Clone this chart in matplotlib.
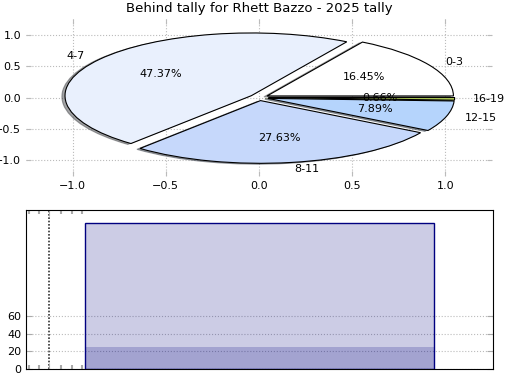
import matplotlib
matplotlib.use('Agg')
import matplotlib.pyplot as plt

# pie data
labels = ['0-3', '4-7', '8-11', '12-15', '16-19']
counts = [25, 72, 42, 12, 1]
colors = ['#ffffff', '#e9f0fd', '#c6d8fb', '#b5d4fc', '#c2e060']

# bar data
bar_total = [167]
bar_first = [25]

plt.rcParams['font.family'] = 'DejaVu Sans'

fig = plt.figure(figsize=(5.2, 3.9), dpi=100)

ax1 = fig.add_axes([0.05, 0.549, 0.896, 0.402])
ax1.pie(counts, labels=labels, colors=colors, autopct='%.2f%%',
        explode=[0.05] * len(counts),
        shadow={'ox': -0.012, 'oy': -0.01, 'shade': 0.7}, frame=True,
        wedgeprops={'edgecolor': 'black', 'linewidth': 0.8},
        textprops={'fontsize': 8})
ax1.set_aspect('auto')
ax1.set_xlim(-1.25, 1.25)
ax1.set_ylim(-1.25, 1.25)
ax1.set_xticks([-1.0, -0.5, 0.0, 0.5, 1.0])
ax1.set_yticks([-1.0, -0.5, 0.0, 0.5, 1.0])
for s in ax1.spines.values():
    s.set_visible(False)
ax1.tick_params(labelsize=8, color='#bbbbbb', direction='in', top=True, right=True)
ax1.grid(True, linestyle=':', color='#bbbbbb')
ax1.set_axisbelow(True)
ax1.set_title('Behind tally for Rhett Bazzo - 2025 tally', fontsize=9.5, pad=5)

fill = (0, 0, 0.5, 0.2)
ax2 = fig.add_axes([0.05, 0.054, 0.898, 0.408])
ax2.bar([0], bar_total, width=0.8, color=fill, edgecolor='navy', linewidth=1)
ax2.bar([0], bar_first, width=0.8, color=fill, linewidth=0)
ax2.set_xlim(-0.535, 0.535)
ax2.set_ylim(0, 182)
ax2.set_yticks([0, 20, 40, 60])
ax2.set_xticks([-0.482])
ax2.set_xticks([-0.528, -0.505, -0.455, -0.43, -0.407], minor=True)
ax2.set_xticklabels([''])
ax2.tick_params(labelsize=8, color='#aaaaaa', direction='in', top=True, right=True, length=4)
ax2.tick_params(which='minor', color='#aaaaaa', direction='in', top=True, bottom=True,
                length=3, width=1.5)
ax2.yaxis.grid(True, linestyle=':', color='#bbbbbb')
ax2.xaxis.grid(True, linestyle=(0, (1, 1)), color='#333333', linewidth=1.2)
ax2.set_axisbelow(True)

fig.savefig('out.png', dpi=100)
